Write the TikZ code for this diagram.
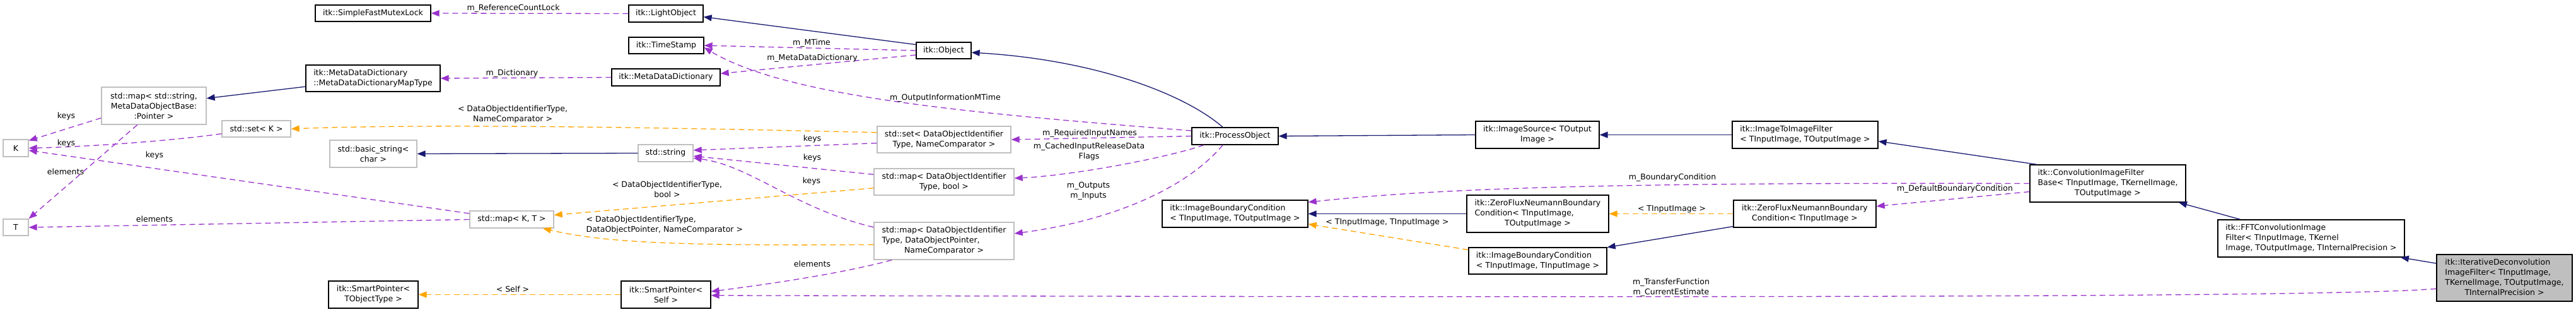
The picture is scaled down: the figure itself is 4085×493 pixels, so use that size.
\documentclass[tikz,border=0pt]{standalone}
\usepackage{fontspec}
\setmainfont{DejaVu Sans}
\usetikzlibrary{arrows.meta}
\definecolor{navyc}{HTML}{191970}
\definecolor{purplec}{HTML}{9A32CD}
\definecolor{orangec}{HTML}{FFA500}
\definecolor{grayc}{HTML}{BFBFBF}
\newcommand\dxfont{\fontsize{12.5}{16}\selectfont}
\begin{document}
\begin{tikzpicture}[x=1pt,y=-1pt,
  cls/.style={draw=black, line width=1.3pt, fill=white, inner sep=0pt, align=center, font=\dxfont},
  ext/.style={cls, draw=grayc},
  lft/.style={align=left},
  lbl/.style={inner sep=0pt, align=center, font=\dxfont},
  tip/.style={-{Triangle[length=13pt,width=10pt]}},
  inh/.style={draw=navyc, line width=1.3pt, tip},
  use/.style={draw=purplec, line width=1.3pt, dash pattern=on 9pt off 6pt, tip},
  tpl/.style={draw=orangec, line width=1.3pt, dash pattern=on 9pt off 6pt, tip}]
\useasboundingbox (0,0) rectangle (4085,493);

% ---- nodes ----
\node[cls, minimum width=183pt, minimum height=26pt] (mutex) at (591.5,21) {itk::SimpleFastMutexLock};
\node[cls, minimum width=118pt, minimum height=27pt] (light) at (1056,21.5) {itk::LightObject};
\node[cls, minimum width=119pt, minimum height=26pt] (time) at (1056.5,72) {itk::TimeStamp};
\node[cls, minimum width=87pt, minimum height=26pt] (object) at (1496.5,80) {itk::Object};
\node[cls, minimum width=172pt, minimum height=27pt] (mdd) at (1056,122.5) {itk::MetaDataDictionary};
\node[cls, lft, minimum width=213pt, minimum height=42pt] (mddmap) at (591.5,124) {itk::MetaDataDictionary\\::MetaDataDictionaryMapType};
\node[ext, minimum width=166pt, minimum height=59pt] (mapstr) at (244,167.5) {std::map< std::string,\\MetaDataObjectBase:\\:Pointer >};
\node[ext, minimum width=40pt, minimum height=27pt] (K) at (25,234.5) {K};
\node[ext, minimum width=40pt, minimum height=26pt] (T) at (25,360) {T};
\node[ext, minimum width=109pt, minimum height=26pt] (setK) at (406.5,204) {std::set< K >};
\node[ext, minimum width=138pt, minimum height=43pt] (basicstr) at (592,243.5) {std::basic\_string<\\char >};
\node[ext, minimum width=87pt, minimum height=27pt] (string) at (1055.5,242.5) {std::string};
\node[ext, minimum width=133pt, minimum height=27pt] (mapKT) at (811.5,347.5) {std::map< K, T >};
\node[cls, minimum width=142pt, minimum height=43pt] (spT) at (592,466.5) {itk::SmartPointer<\\TObjectType >};
\node[cls, minimum width=142pt, minimum height=43pt] (spSelf) at (1056,466.5) {itk::SmartPointer<\\Self >};
\node[ext, minimum width=212pt, minimum height=42pt] (setDOI) at (1497,221) {std::set< DataObjectIdentifier\\Type, NameComparator >};
\node[ext, minimum width=222pt, minimum height=42pt] (mapBool) at (1497,288) {std::map< DataObjectIdentifier\\Type, bool >};
\node[ext, minimum width=222pt, minimum height=59pt] (mapDOP) at (1497,381.5) {\begin{tabular}{@{}l@{}}std::map< DataObjectIdentifier\\Type, DataObjectPointer,\\\multicolumn{1}{@{}c@{}}{NameComparator >}\end{tabular}};
\node[cls, minimum width=137pt, minimum height=27pt] (process) at (1958.5,215.5) {itk::ProcessObject};
\node[cls, lft, minimum width=231pt, minimum height=43pt] (ibcTO) at (1958.5,338.5) {itk::ImageBoundaryCondition\\< TInputImage, TOutputImage >};
\node[cls, minimum width=196pt, minimum height=43pt] (source) at (2438,213.5) {itk::ImageSource< TOutput\\Image >};
\node[cls, minimum width=225pt, minimum height=59pt] (zfnTO) at (2438.5,338.5) {\begin{tabular}{@{}l@{}}itk::ZeroFluxNeumannBoundary\\Condition< TInputImage,\\\multicolumn{1}{@{}c@{}}{TOutputImage >}\end{tabular}};
\node[cls, lft, minimum width=219pt, minimum height=42pt] (ibcTI) at (2438.5,413) {itk::ImageBoundaryCondition\\< TInputImage, TInputImage >};
\node[cls, lft, minimum width=231pt, minimum height=43pt] (i2i) at (2862.5,213.5) {itk::ImageToImageFilter\\< TInputImage, TOutputImage >};
\node[cls, minimum width=226pt, minimum height=43pt] (zfnTI) at (2862,338.5) {itk::ZeroFluxNeumannBoundary\\Condition< TInputImage >};
\node[cls, minimum width=247pt, minimum height=59pt] (conv) at (3342.5,290.5) {\begin{tabular}{@{}l@{}}itk::ConvolutionImageFilter\\Base< TInputImage, TKernelImage,\\\multicolumn{1}{@{}c@{}}{TOutputImage >}\end{tabular}};
\node[cls, lft, minimum width=296pt, minimum height=59pt] (fft) at (3665,377.5) {itk::FFTConvolutionImage\\Filter< TInputImage, TKernel\\Image, TOutputImage, TInternalPrecision >};
\node[cls, fill=grayc, minimum width=215pt, minimum height=74pt] (iter) at (3971.5,440) {\begin{tabular}{@{}l@{}}itk::IterativeDeconvolution\\ImageFilter< TInputImage,\\\multicolumn{1}{@{}c@{}}{TKernelImage, TOutputImage,}\\\multicolumn{1}{@{}c@{}}{TInternalPrecision >}\end{tabular}};

% ---- inheritance ----
\draw[inh] (object.168) -- (light.-5);
\draw[inh] (process.144) .. controls (1880,150) and (1740,95) .. (object.-4);
\draw[inh] (source.west) -- (process.east);
\draw[inh] (i2i.west) -- (source.east);
\draw[inh] (conv.165) -- (i2i.-5);
\draw[inh] (fft.165) -- (conv.-15);
\draw[inh] (iter.168) -- (fft.-12);
\draw[inh] (zfnTO.west) -- (ibcTO.east);
\draw[inh] (zfnTI.190) -- (ibcTI.11);
\draw[inh] (mddmap.187) -- (mapstr.8);
\draw[inh] (string.west) -- (basicstr.east);

% ---- template instances ----
\draw[tpl] (setDOI.174) .. controls (1100,203) and (700,195) .. (setK.east);
\draw[tpl] (mapBool.185) -- (mapKT.6);
\draw[tpl] (mapDOP.183) .. controls (1050,390) and (950,382) .. (mapKT.-16);
\draw[tpl] (spSelf.west) -- (spT.east);
\draw[tpl] (zfnTI.west) -- (zfnTO.east);
\draw[tpl] (ibcTI.171) -- (ibcTO.-8);

% ---- usage ----
\draw[use] (light.west) -- (mutex.east);
\draw[use] (object.west) -- (time.east);
\draw[use] (object.189) -- (mdd.4);
\draw[use] (mdd.west) -- (mddmap.east);
\draw[use] (process.173) .. controls (1550,180) and (1250,155) .. (time.-3);
\draw[use] (process.west) -- (setDOI.east);
\draw[use] (process.196) .. controls (1850,250) and (1700,278) .. (mapBool.3);
\draw[use] (process.216) .. controls (1880,300) and (1760,350) .. (mapDOP.6);
\draw[use] (mapDOP.200) .. controls (1340,432) and (1220,450) .. (spSelf.4);
\draw[use] (iter.189) .. controls (3700,472) and (2500,471) .. (spSelf.-1);
\draw[use] (setDOI.183) -- (string.6);
\draw[use] (mapBool.174) -- (string.-6);
\draw[use] (mapDOP.169) .. controls (1260,330) and (1190,262) .. (string.-10);
\draw[use] (mapstr.193) -- (K.30);
\draw[use] (mapstr.229) -- (T.north east);
\draw[use] (setK.188) .. controls (280,222) and (150,232) .. (K.east);
\draw[use] (mapKT.172) -- (K.-10);
\draw[use] (mapKT.west) -- (T.east);
\draw[use] (conv.west) .. controls (2600,289) and (2300,296) .. (ibcTO.9);
\draw[use] (conv.186) -- (zfnTI.6);

% ---- labels ----
\node[lbl] (t1) at (814,13) {m\_ReferenceCountLock};
\node[lbl] (t2) at (1287,68) {m\_MTime};
\node[lbl] (t3) at (1288,92) {m\_MetaDataDictionary};
\node[lbl] (t4) at (812,116) {m\_Dictionary};
\node[lbl] (t5) at (1499,155) {m\_OutputInformationMTime};
\node[lbl] (t6) at (1728,211) {m\_RequiredInputNames};
\node[lbl] (t7) at (1727,240.5) {m\_CachedInputReleaseData\\Flags};
\node[lbl] (t8) at (1726,302.5) {m\_Outputs\\m\_Inputs};
\node[lbl] (t9) at (813,181) {< DataObjectIdentifierType,\\NameComparator >};
\node[lbl] (t10) at (1058,299.5) {< DataObjectIdentifierType,\\bool >};
\node[lbl, anchor=west, align=left] (t11) at (929.5,356) {< DataObjectIdentifierType,\\DataObjectPointer, NameComparator >};
\node[lbl] (t12) at (1288,220) {keys};
\node[lbl] (t13) at (1288,250) {keys};
\node[lbl] (t14) at (1287,287) {keys};
\node[lbl] (t15) at (1288,418) {elements};
\node[lbl] (t16) at (813,458) {< Self >};
\node[lbl] (t17) at (105,184) {keys};
\node[lbl] (t18) at (105,227) {keys};
\node[lbl] (t19) at (245,246) {keys};
\node[lbl] (t20) at (104,272) {elements};
\node[lbl] (t21) at (245,347) {elements};
\node[lbl] (t22) at (2652,281) {m\_BoundaryCondition};
\node[lbl] (t23) at (2651,331) {< TInputImage >};
\node[lbl] (t24) at (2200,352) {< TInputImage, TInputImage >};
\node[lbl] (t25) at (3100,299) {m\_DefaultBoundaryCondition};
\node[lbl] (t26) at (2650,455) {m\_TransferFunction\\m\_CurrentEstimate};
\end{tikzpicture}
\end{document}
